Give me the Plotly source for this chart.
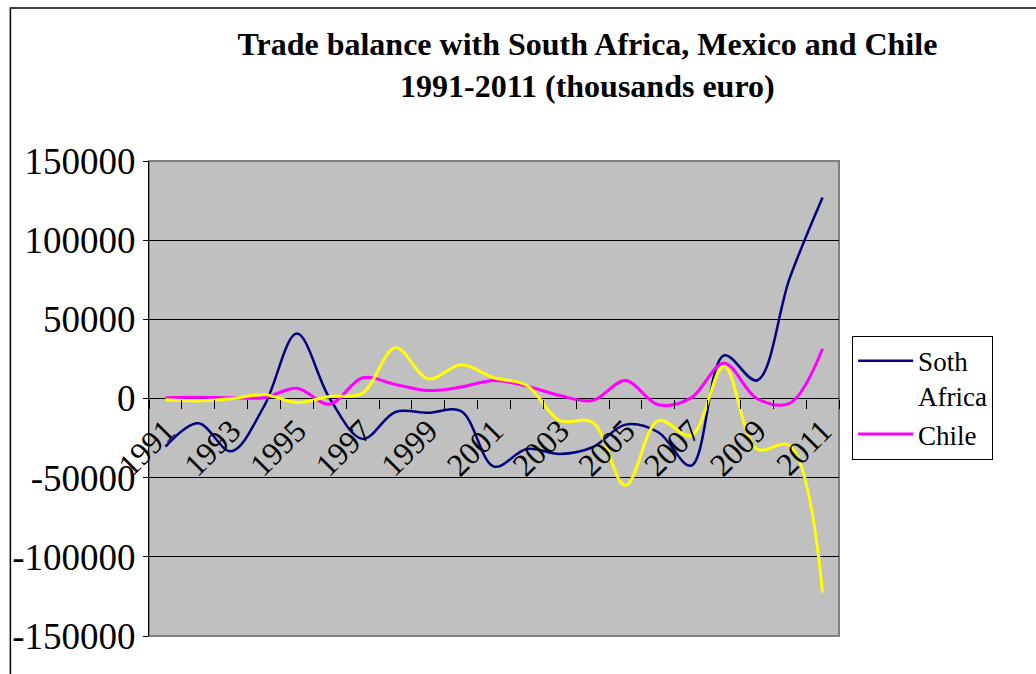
import plotly.graph_objects as go

# Trade balance, thousands of euro
years = list(range(1991, 2012))
south_africa = [-30400, -15600, -33300, -5000, 41000, 0, -25500, -8500, -9000, -8000,
                -43000, -31900, -35000, -30800, -16500, -21300, -42400, 27200, 11400, 76000, 127000]
mexico = [-800, -1500, -200, 2500, -2500, 1300, 3400, 32100, 12400, 21300,
          13100, 8200, -13900, -15000, -55000, -13900, -23400, 20300, -31900, -29800, -122600]
chile = [500, 800, 500, 500, 6500, -3600, 13100, 8900, 5000, 7200,
         11400, 7800, 1900, -1300, 11400, -4000, 400, 22300, 0, -3000, 31400]

tick_years = years[::2]
y_ticks = [-150000, -100000, -50000, 0, 50000, 100000, 150000]

SERIF = "Liberation Serif"

fig = go.Figure()
fig.add_trace(go.Scatter(x=years, y=south_africa, name="Soth<br>Africa", mode="lines",
                         line=dict(color="#000080", width=2.5, shape="spline", smoothing=1.0)))
fig.add_trace(go.Scatter(x=years, y=chile, name="Chile", mode="lines",
                         line=dict(color="#FF00FF", width=3, shape="spline", smoothing=1.0)))
fig.add_trace(go.Scatter(x=years, y=mexico, name="Mexico", mode="lines", showlegend=False,
                         line=dict(color="#FFFF00", width=3, shape="spline", smoothing=1.0)))

fig.update_layout(
    width=1036, height=674,
    margin=dict(l=147, r=197, t=161, b=38),
    paper_bgcolor="white",
    plot_bgcolor="#C0C0C0",
    font=dict(family=SERIF, color="black"),
    title=dict(
        text="<b>Trade balance with South Africa, Mexico and Chile<br>1991-2011 (thousands euro)</b>",
        x=0.567, xanchor="center", xref="container",
        y=0.918, yanchor="top", yref="container",
        font=dict(size=32, family=SERIF, color="black"),
    ),
    legend=dict(
        x=1.019, xanchor="left", y=0.632, yanchor="top",
        bgcolor="white", bordercolor="black", borderwidth=1,
        font=dict(size=27, family=SERIF, color="black"),
        valign="top", tracegroupgap=0, itemwidth=55,
        entrywidth=125, entrywidthmode="pixels",
    ),
    showlegend=True,
)

fig.update_xaxes(
    range=[1990.5, 2011.5],
    tickmode="array", tickvals=tick_years, ticktext=[str(y) for y in tick_years],
    tickangle=-45, ticks="", tickfont=dict(size=32, family=SERIF),
    ticklabelstandoff=6,
    anchor="free", position=0.5,
    showline=False, showgrid=False, zeroline=False,
    minor=dict(tick0=1990.5, dtick=1, ticks="outside", ticklen=9, tickcolor="black",
               tickwidth=1, showgrid=False),
)
fig.update_yaxes(
    range=[-150000, 150000],
    tickmode="array", tickvals=y_ticks, ticktext=[str(v) for v in y_ticks],
    ticks="outside", ticklen=5, tickcolor="black",
    tickfont=dict(size=37, family=SERIF),
    showline=True, linecolor="black", linewidth=1,
    showgrid=True, gridcolor="black", gridwidth=1,
    zeroline=True, zerolinecolor="black", zerolinewidth=1,
)

# Gray frame around the plotting area
fig.add_shape(type="rect", xref="paper", yref="paper", x0=0, x1=1, y0=0, y1=1,
              line=dict(color="#808080", width=2), layer="below")
# Outer chart border
fig.add_shape(type="rect", xref="paper", yref="paper",
              x0=-0.2009, x1=1.32, y0=-0.1, y1=1.3221,
              line=dict(color="black", width=1.5))

fig.write_html("out.html")
